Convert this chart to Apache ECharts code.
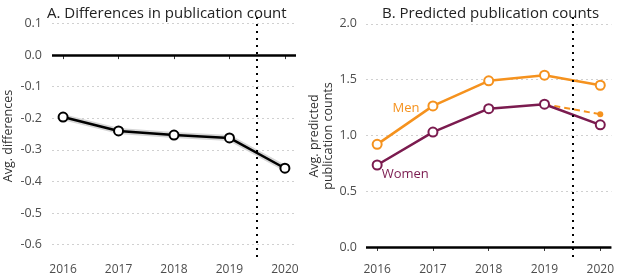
<!DOCTYPE html>
<html>
<head>
<meta charset="utf-8">
<script src="https://cdn.jsdelivr.net/npm/echarts@6/dist/echarts.min.js"></script>
<style>
  html, body { margin: 0; padding: 0; background: #fff; }
  #chart { width: 617px; height: 276px; }
</style>
</head>
<body>
<div id="chart"></div>
<script>
var years = [2016, 2017, 2018, 2019, 2020]
var diffValues = [-0.196, -0.24, -0.253, -0.262, -0.358]
var menValues = [0.92, 1.265, 1.49, 1.54, 1.45]
var womenValues = [0.735, 1.03, 1.24, 1.28, 1.095]
var womenCounterfactual = [[2019, 1.28], [2020, 1.19]]
var diffTicks = [-0.6, -0.5, -0.4, -0.3, -0.2, -0.1, 0, 0.1]
var countTicks = [0, 0.5, 1, 1.5, 2]

var orange = '#F5921E'
var maroon = '#7B1B4F'
var font = 'Open Sans'

function pairs(values) {
  return years.map(function(y, i) { return [y, values[i]] })
}

function xAxisFor(gridIndex) {
  return {
    type: 'value',
    gridIndex: gridIndex,
    min: 2015.8,
    max: 2020.2,
    axisLine: { show: false },
    axisTick: { show: true, length: 4, customValues: years, lineStyle: { color: '#333' } },
    axisLabel: {
      customValues: years, margin: 7, fontFamily: font, fontSize: 12, color: '#4d4d4d',
      formatter: function(v) { return String(v) }
    },
    splitLine: { show: false }
  }
}

function yAxisFor(gridIndex, min, max, ticks, name, nameGap, margin) {
  return {
    type: 'value',
    gridIndex: gridIndex,
    min: min,
    max: max,
    name: name,
    nameLocation: 'middle',
    nameGap: nameGap,
    nameTextStyle: { fontFamily: font, fontSize: 12.5, color: '#333', lineHeight: 14 },
    axisLine: { show: false },
    axisTick: { show: false, customValues: ticks },
    axisLabel: {
      customValues: ticks,
      margin: margin,
      fontFamily: font,
      fontSize: 12.5,
      color: '#4d4d4d',
      formatter: function(v) { return v.toFixed(1) }
    },
    splitLine: { show: true, lineStyle: { color: '#d0d0d0', type: [2, 3], width: 1 } }
  }
}

// solid black reference line at y = 0
function zeroLine() {
  return {
    silent: true,
    symbol: 'none',
    label: { show: false },
    lineStyle: { color: '#000', width: 2.5, type: 'solid', opacity: 1 },
    emphasis: { disabled: true },
    data: [{ yAxis: 0 }]
  }
}

// dotted separator between 2019 and 2020
function breakLine() {
  return {
    silent: true,
    symbol: 'none',
    label: { show: false },
    lineStyle: { color: '#000', width: 2, type: [2, 5], opacity: 1 },
    emphasis: { disabled: true },
    data: [{ xAxis: 2019.5 }]
  }
}

var chart = echarts.init(document.getElementById('chart'))
chart.setOption({
  animation: false,
  title: [
    { text: 'A. Differences in publication count', left: 42, top: 1,
      textStyle: { fontFamily: font, fontSize: 15, fontWeight: 'normal', color: '#222' } },
    { text: 'B. Predicted publication counts', left: 377, top: 1,
      textStyle: { fontFamily: font, fontSize: 15, fontWeight: 'normal', color: '#222' } }
  ],
  grid: [
    { left: 47, top: 15, width: 249, height: 242 },
    { left: 366, top: 15, width: 248, height: 242 }
  ],
  xAxis: [xAxisFor(0), xAxisFor(1)],
  yAxis: [
    yAxisFor(0, -0.639, 0.127, diffTicks, 'Avg. differences', 37, 10),
    yAxisFor(1, -0.09, 2.08, countTicks, 'Avg. predicted\npublication counts', 31, 9)
  ],
  series: [
    {
      type: 'line', xAxisIndex: 0, yAxisIndex: 0,
      data: pairs(diffValues),
      symbol: 'none',
      lineStyle: { color: '#d6d6d6', width: 6 },
      z: 1
    },
    {
      type: 'line', xAxisIndex: 0, yAxisIndex: 0,
      data: pairs(diffValues),
      symbol: 'circle', symbolSize: 9,
      itemStyle: { color: '#fff', borderColor: '#000', borderWidth: 2 },
      lineStyle: { color: '#000', width: 2.5 },
      markLine: breakLine(),
      z: 3
    },
    {
      type: 'line', xAxisIndex: 0, yAxisIndex: 0,
      data: [],
      markLine: zeroLine(),
      z: 2
    },
    {
      type: 'line', xAxisIndex: 1, yAxisIndex: 1,
      data: [],
      markLine: zeroLine(),
      z: 2
    },
    {
      type: 'line', xAxisIndex: 1, yAxisIndex: 1,
      data: womenCounterfactual,
      symbol: 'circle',
      symbolSize: function(v, p) { return p.dataIndex === 1 ? 6 : 0 },
      itemStyle: { color: orange },
      lineStyle: { color: orange, width: 2, type: [6, 4] },
      z: 2
    },
    {
      type: 'line', xAxisIndex: 1, yAxisIndex: 1,
      data: pairs(menValues).map(function(d, i) {
        if (i !== 1) return d
        return { value: d, label: { show: true, formatter: 'Men', position: 'left', distance: 8, offset: [0, 2],
          fontFamily: font, fontSize: 13, color: orange } }
      }),
      symbol: 'circle', symbolSize: 9,
      itemStyle: { color: '#fff', borderColor: orange, borderWidth: 2 },
      lineStyle: { color: orange, width: 2.5 },
      markLine: breakLine(),
      z: 3
    },
    {
      type: 'line', xAxisIndex: 1, yAxisIndex: 1,
      data: pairs(womenValues).map(function(d, i) {
        if (i !== 0) return d
        return { value: d, label: { show: true, formatter: 'Women', position: 'right', distance: 0, offset: [-1, 9],
          fontFamily: font, fontSize: 13, color: maroon } }
      }),
      symbol: 'circle', symbolSize: 9,
      itemStyle: { color: '#fff', borderColor: maroon, borderWidth: 2 },
      lineStyle: { color: maroon, width: 2.5 },
      z: 3
    }
  ]
})
</script>
</body>
</html>
